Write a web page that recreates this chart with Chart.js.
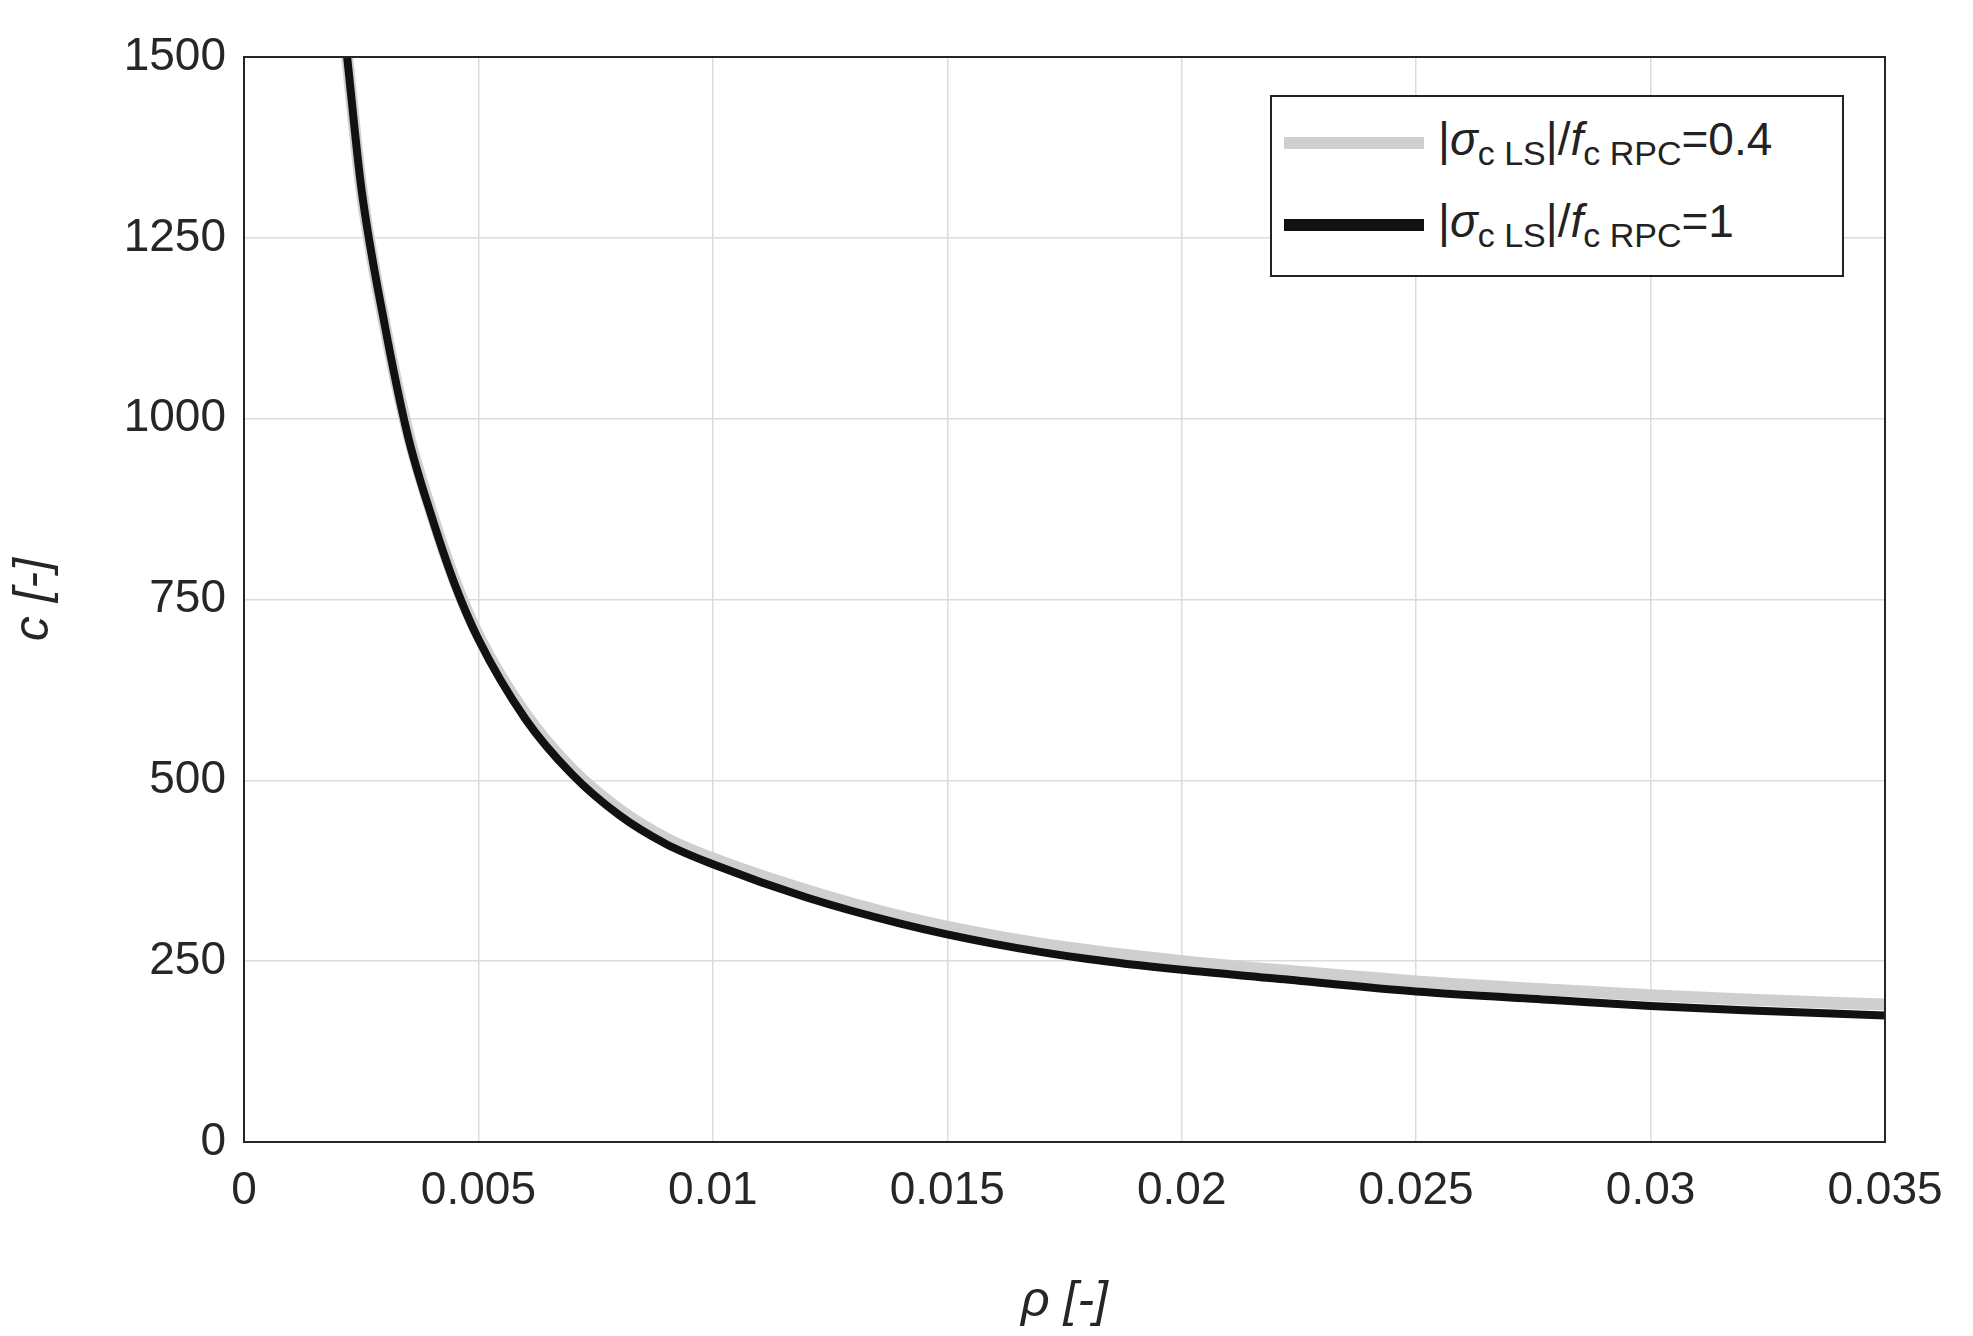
<!DOCTYPE html>
<html>
<head>
<meta charset="utf-8">
<script src="https://cdn.jsdelivr.net/npm/chart.js@4/dist/chart.umd.min.js"></script>
<style>
  body { margin:0; background:#fff; }
  #wrap { position:relative; width:1973px; height:1336px; }
  #legend { position:absolute; left:1270px; top:95px; width:574px; height:182px; border:2px solid #222;
    background:#fff; font-family:"Liberation Sans", Arial, sans-serif; font-size:46px; color:#222; box-sizing:border-box; }
  .row { position:absolute; left:0; height:80px; display:flex; align-items:center; }
  .sw { width:140px; height:12px; margin:0 14px 0 12px; }
  sub { font-size:34px; }
</style>
</head>
<body>
<div id="wrap">
<canvas id="c" width="1973" height="1336"></canvas>
<div id="legend">
  <div class="row" style="top:6px"><div class="sw" style="background:#cfcfcf"></div><span>|<i>σ</i><sub>c LS</sub>|/<i>f</i><sub>c RPC</sub>=0.4</span></div>
  <div class="row" style="top:88px"><div class="sw" style="background:#111"></div><span>|<i>σ</i><sub>c LS</sub>|/<i>f</i><sub>c RPC</sub>=1</span></div>
</div>
</div>
<script>
const rho = [0.0022, 0.0025, 0.003, 0.0035, 0.004, 0.0045, 0.005, 0.006, 0.007, 0.008, 0.009, 0.01, 0.012, 0.014, 0.016, 0.018, 0.02, 0.022, 0.025, 0.028, 0.03, 0.032, 0.035];
const cLow = [1500, 1320, 1130, 980, 870, 775, 700, 592, 515, 460, 420, 392, 348, 312, 285, 265, 250, 238, 222, 210, 203, 197, 190];
const cHigh = [1500, 1320, 1130, 975, 865, 770, 695, 585, 508, 452, 412, 384, 338, 302, 274, 253, 238, 226, 208, 196, 188, 182, 175];
const xTicks = [0, 0.005, 0.01, 0.015, 0.02, 0.025, 0.03, 0.035];
const yTicks = [0, 250, 500, 750, 1000, 1250, 1500];

const pts = arr => rho.map((r, i) => ({x: r, y: arr[i]}));
const font = {family: '"Liberation Sans", Arial, sans-serif', size: 46};

const boxPlugin = {
  id: 'box',
  afterDraw(chart) {
    const a = chart.chartArea, ctx = chart.ctx;
    ctx.save();
    ctx.strokeStyle = '#262626';
    ctx.lineWidth = 2;
    ctx.strokeRect(a.left, a.top, a.right - a.left, a.bottom - a.top);
    ctx.restore();
  }
};

new Chart(document.getElementById('c'), {
  type: 'line',
  data: {
    datasets: [
      {data: pts(cLow), borderColor: '#cfcfcf', borderWidth: 12, pointRadius: 0, cubicInterpolationMode: 'monotone', order: 2},
      {data: pts(cHigh), borderColor: '#111', borderWidth: 8, pointRadius: 0, cubicInterpolationMode: 'monotone', order: 1}
    ]
  },
  options: {
    responsive: false,
    animation: false,
    layout: {padding: {top: 57, right: 88, left: 0, bottom: 0}},
    plugins: {legend: {display: false}, tooltip: {enabled: false}},
    scales: {
      x: {
        type: 'linear', min: 0, max: 0.035,
        afterBuildTicks: s => { s.ticks = xTicks.map(v => ({value: v})); },
        afterFit: s => { s.height = 194; },
        grid: {color: '#dcdcdc', lineWidth: 1.5, drawTicks: false},
        border: {display: false},
        ticks: {font, color: '#262626', padding: 22, maxRotation: 0, callback: v => String(v)},
        title: {display: true, text: 'ρ [-]', font: {...font, size: 50, style: 'italic'}, color: '#262626', padding: {top: 0}}
      },
      y: {
        min: 0, max: 1500,
        afterBuildTicks: s => { s.ticks = yTicks.map(v => ({value: v})); },
        afterFit: s => { s.width = 244; },
        grid: {color: '#dcdcdc', lineWidth: 1.5, drawTicks: false},
        border: {display: false},
        ticks: {font, color: '#262626', padding: 18, callback: v => String(v)},
        title: {display: true, text: 'c [-]', font: {...font, size: 50, style: 'italic'}, color: '#262626'}
      }
    }
  },
  plugins: [boxPlugin]
});
</script>
</body>
</html>
